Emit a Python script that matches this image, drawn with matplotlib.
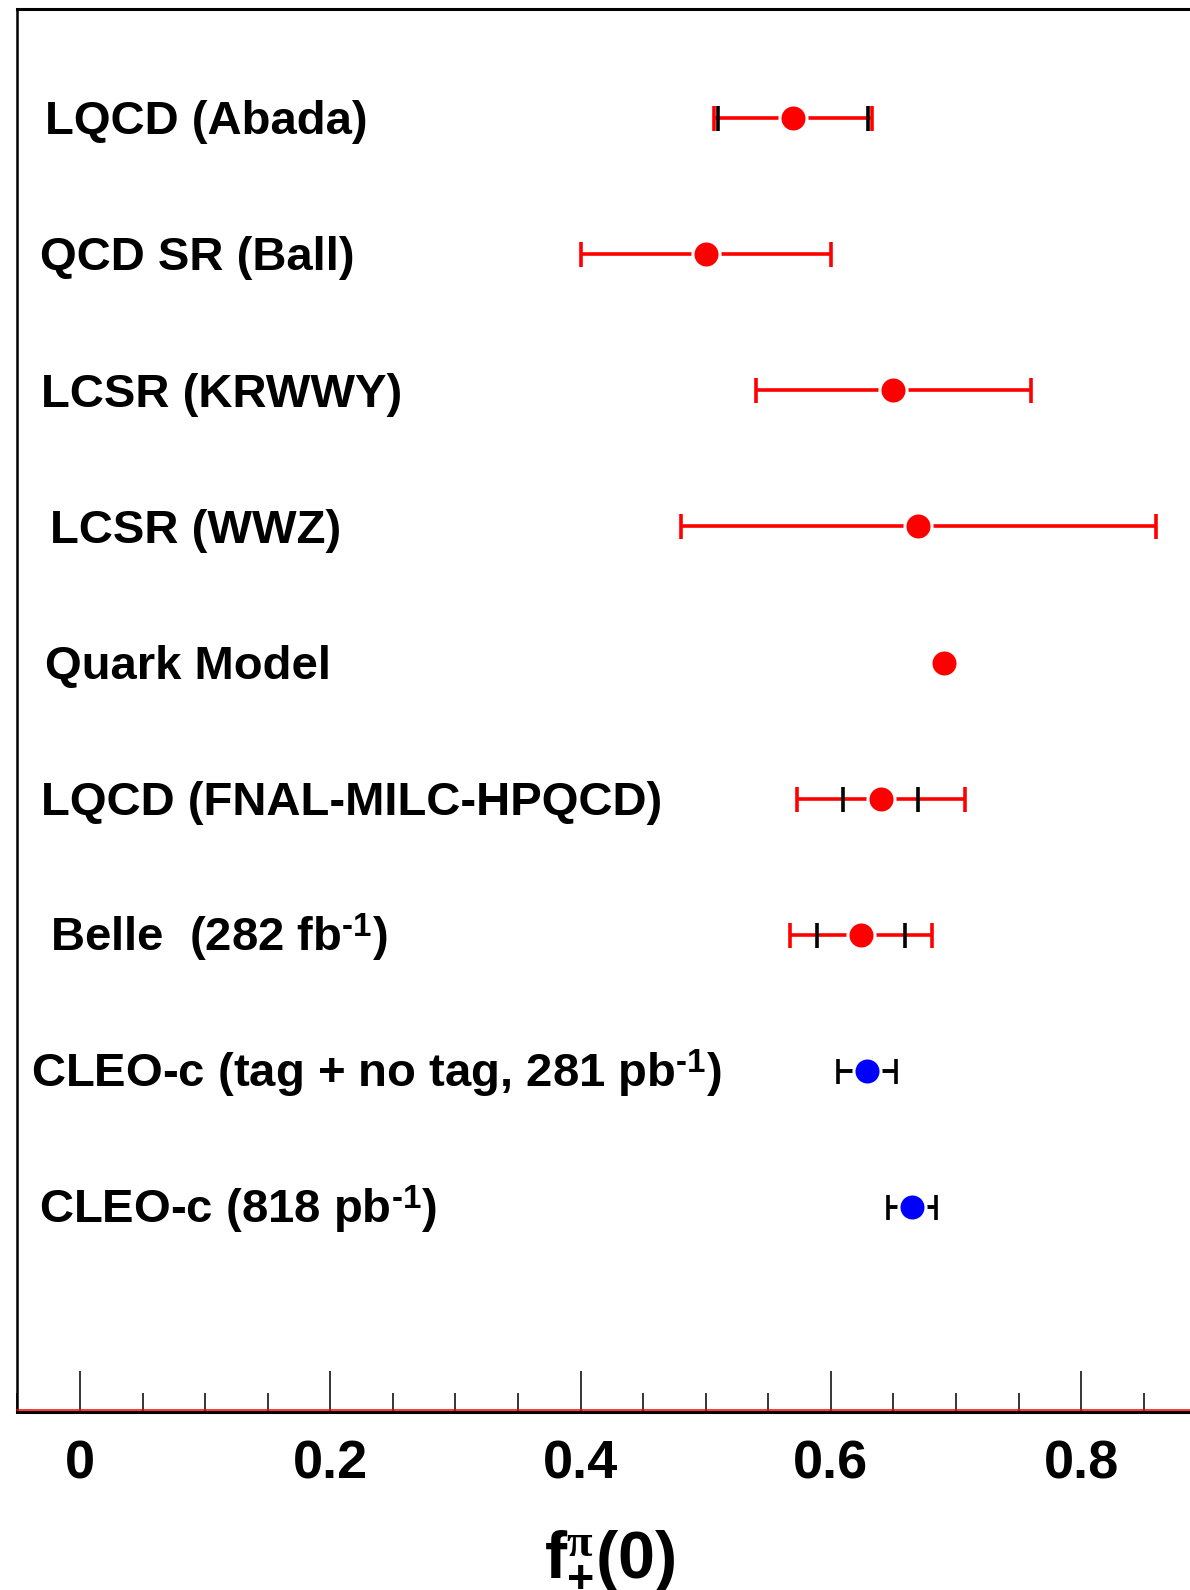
import numpy as np
import matplotlib
matplotlib.use('Agg')
import matplotlib.pyplot as plt
from matplotlib.ticker import MultipleLocator

plt.rcParams['font.family'] = 'Liberation Sans'
plt.rcParams['font.weight'] = 'bold'
plt.rcParams['mathtext.fontset'] = 'custom'
plt.rcParams['mathtext.rm'] = 'Liberation Sans:bold'
plt.rcParams['mathtext.bf'] = 'Liberation Sans:bold'
plt.rcParams['mathtext.it'] = 'Liberation Serif:italic'
plt.rcParams['mathtext.sf'] = 'Liberation Serif'

# measurements / predictions of f+(0) for D -> pi, top row first
labels = ['LQCD (Abada)', 'QCD SR (Ball)', 'LCSR (KRWWY)', 'LCSR (WWZ)',
          'Quark Model', 'LQCD (FNAL-MILC-HPQCD)',
          r'Belle  (282 fb$^{\text{-1}}$)',
          r'CLEO-c (tag + no tag, 281 pb$^{\text{-1}}$)',
          r'CLEO-c (818 pb$^{\text{-1}}$)']
values = [0.570, 0.500, 0.650, 0.670, 0.690, 0.640, 0.624, 0.629, 0.665]
stat_err = [0.060, np.nan, np.nan, np.nan, np.nan, 0.030, 0.035, 0.023, 0.019]
total_err = [0.063, 0.100, 0.110, 0.190, np.nan, 0.067, 0.057, np.nan, np.nan]
point_colors = ['red', 'red', 'red', 'red', 'red', 'red', 'red', 'blue', 'blue']
label_x = [-0.028, -0.032, -0.031, -0.024, -0.028, -0.031, -0.024, -0.039, -0.033]

tick_vals = [0, 0.2, 0.4, 0.6, 0.8]
tick_labels = ['0', '0.2', '0.4', '0.6', '0.8']

fig = plt.figure(figsize=(11.9, 15.9), dpi=100)
ax = fig.add_axes([17.4 / 1190, 178.5 / 1590, 1251.5 / 1190, 1402.5 / 1590])

n = len(labels)
for i in range(n):
    y = n - i + 0.5
    v = values[i]
    if not np.isnan(total_err[i]):
        ax.errorbar(v, y, xerr=total_err[i], fmt='none', ecolor='red',
                    elinewidth=2.6, capsize=9, capthick=2.6, zorder=2)
    if not np.isnan(stat_err[i]):
        # stat-only caps sit on top of the red total bar
        lw = 0 if not np.isnan(total_err[i]) else 2.8
        ax.errorbar(v, y, xerr=stat_err[i], fmt='none', ecolor='black',
                    elinewidth=lw, capsize=9, capthick=2.6, zorder=3)
    ax.plot(v, y, 'o', ms=19.5, mfc=point_colors[i], mec='white', mew=2.2, zorder=4)
    ax.text(label_x[i], y - 0.12, labels[i], fontsize=34, fontweight='bold',
            ha='left', va='baseline')

ax.set_xlim(-0.05, 0.95)
ax.set_ylim(0, 10.3)
ax.set_yticks([])
ax.set_xticks(tick_vals)
ax.set_xticklabels(tick_labels)
ax.xaxis.set_minor_locator(MultipleLocator(0.05))
ax.tick_params(axis='x', which='major', direction='in', length=29.5, width=1.1,
               labelsize=39, pad=20)
ax.tick_params(axis='x', which='minor', direction='in', length=13.7, width=1.1)

ax.spines['right'].set_visible(False)
ax.spines['left'].set_linewidth(1.8)
ax.spines['top'].set_linewidth(2.2)
ax.spines['bottom'].set_linewidth(2.2)
ax.axhline(0.011, color='red', lw=1.1, zorder=3, clip_on=False)

ax.set_xlabel(r'$\mathbf{f}^{\mathsf{\pi}}_{\mathbf{+}}\mathbf{(0)}$', fontsize=48)
ax.xaxis.set_label_coords(0.4735, -0.118)
ax.xaxis.label.set_va('baseline')

fig.savefig('out.png', dpi=100)
